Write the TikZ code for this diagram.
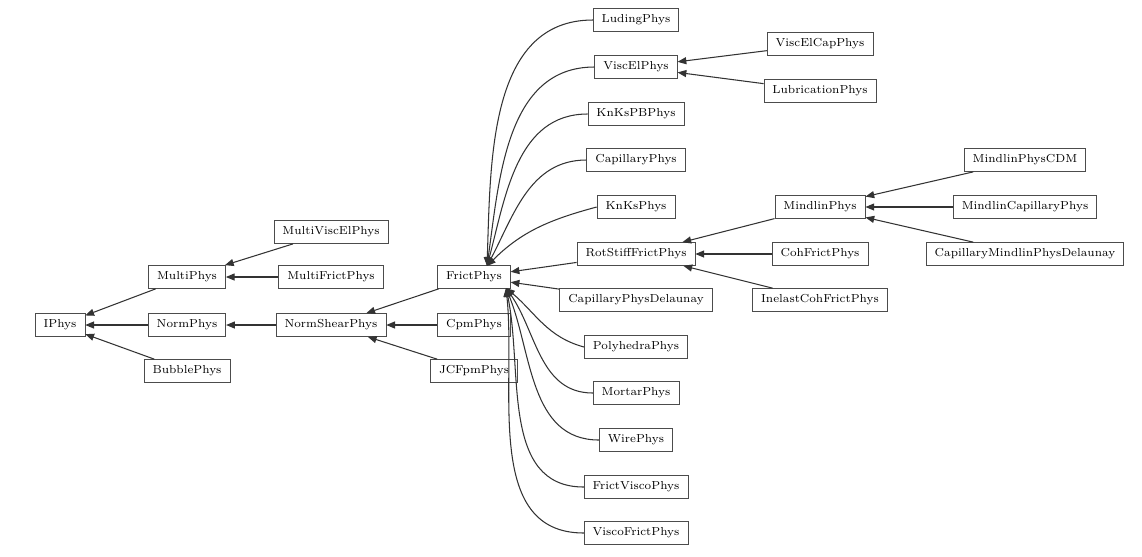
\documentclass[tikz,border=0pt]{standalone}
\usetikzlibrary{arrows.meta}
\tikzset{
  cls/.style={draw=black!70, font=\fontsize{6.6}{8}\selectfont, minimum height=0.46cm, inner xsep=0.17cm, inner ysep=0pt},
  inh/.style={-{Triangle[length=5pt,width=4pt]}, black!80, semithick}
}
\begin{document}
\begin{tikzpicture}[x=0.02cm, y=-0.02cm]
\useasboundingbox (0,0) rectangle (1142,556);
% classes
\node[cls] (IPhys) at (60,325) {IPhys};
\node[cls] (MultiPhys) at (187,277) {MultiPhys};
\node[cls] (NormPhys) at (187,325) {NormPhys};
\node[cls] (BubblePhys) at (187,371) {BubblePhys};
\node[cls] (MultiViscElPhys) at (331,232) {MultiViscElPhys};
\node[cls] (MultiFrictPhys) at (331,277) {MultiFrictPhys};
\node[cls] (NormShearPhys) at (331,325) {NormShearPhys};
\node[cls] (FrictPhys) at (474,277) {FrictPhys};
\node[cls] (CpmPhys) at (474,325) {CpmPhys};
\node[cls] (JCFpmPhys) at (474,371) {JCFpmPhys};
\node[cls] (LudingPhys) at (636,20) {LudingPhys};
\node[cls] (ViscElPhys) at (636,67) {ViscElPhys};
\node[cls] (KnKsPBPhys) at (636,114) {KnKsPBPhys};
\node[cls] (CapillaryPhys) at (636,160) {CapillaryPhys};
\node[cls] (KnKsPhys) at (636,207) {KnKsPhys};
\node[cls] (RotStiffFrictPhys) at (636,254) {RotStiffFrictPhys};
\node[cls] (CapillaryPhysDelaunay) at (636,300) {CapillaryPhysDelaunay};
\node[cls] (PolyhedraPhys) at (636,347) {PolyhedraPhys};
\node[cls] (MortarPhys) at (636,393) {MortarPhys};
\node[cls] (WirePhys) at (636,440) {WirePhys};
\node[cls] (FrictViscoPhys) at (636,487) {FrictViscoPhys};
\node[cls] (ViscoFrictPhys) at (636,533) {ViscoFrictPhys};
\node[cls] (ViscElCapPhys) at (820,44) {ViscElCapPhys};
\node[cls] (LubricationPhys) at (820,91) {LubricationPhys};
\node[cls] (MindlinPhys) at (820,207) {MindlinPhys};
\node[cls] (CohFrictPhys) at (820,254) {CohFrictPhys};
\node[cls] (InelastCohFrictPhys) at (820,300) {InelastCohFrictPhys};
\node[cls] (MindlinPhysCDM) at (1025,160) {MindlinPhysCDM};
\node[cls] (MindlinCapillaryPhys) at (1025,207) {MindlinCapillaryPhys};
\node[cls] (CapillaryMindlinPhysDelaunay) at (1025,254) {CapillaryMindlinPhysDelaunay};
\coordinate (fa) at (487,266);
\coordinate (fb) at (506,288);
% inheritance
\draw[inh] (MultiPhys) -- (IPhys);
\draw[inh] (NormPhys) -- (IPhys);
\draw[inh] (BubblePhys) -- (IPhys);
\draw[inh] (MultiViscElPhys) -- (MultiPhys);
\draw[inh] (MultiFrictPhys) -- (MultiPhys);
\draw[inh] (NormShearPhys) -- (NormPhys);
\draw[inh] (FrictPhys) -- (NormShearPhys);
\draw[inh] (CpmPhys) -- (NormShearPhys);
\draw[inh] (JCFpmPhys) -- (NormShearPhys);
\draw[inh] (LudingPhys.west) to[out=180,in=88] (fa);
\draw[inh] (ViscElPhys.west) to[out=180,in=82] (fa);
\draw[inh] (KnKsPBPhys.west) to[out=180,in=75] (fa);
\draw[inh] (CapillaryPhys.west) to[out=180,in=62] (fa);
\draw[inh] (KnKsPhys.west) to[out=195,in=45] (fa);
\draw[inh] (RotStiffFrictPhys) -- (FrictPhys);
\draw[inh] (CapillaryPhysDelaunay) -- (FrictPhys);
\draw[inh] (PolyhedraPhys.west) to[out=165,in=-40] (fb);
\draw[inh] (MortarPhys.west) to[out=180,in=-55] (fb);
\draw[inh] (WirePhys.west) to[out=180,in=-68] (fb);
\draw[inh] (FrictViscoPhys.west) to[out=180,in=-78] (fb);
\draw[inh] (ViscoFrictPhys.west) to[out=180,in=-84] (fb);
\draw[inh] (ViscElCapPhys) -- (ViscElPhys);
\draw[inh] (LubricationPhys) -- (ViscElPhys);
\draw[inh] (MindlinPhys) -- (RotStiffFrictPhys);
\draw[inh] (CohFrictPhys) -- (RotStiffFrictPhys);
\draw[inh] (InelastCohFrictPhys) -- (RotStiffFrictPhys);
\draw[inh] (MindlinPhysCDM) -- (MindlinPhys);
\draw[inh] (MindlinCapillaryPhys) -- (MindlinPhys);
\draw[inh] (CapillaryMindlinPhysDelaunay) -- (MindlinPhys);
\end{tikzpicture}
\end{document}
